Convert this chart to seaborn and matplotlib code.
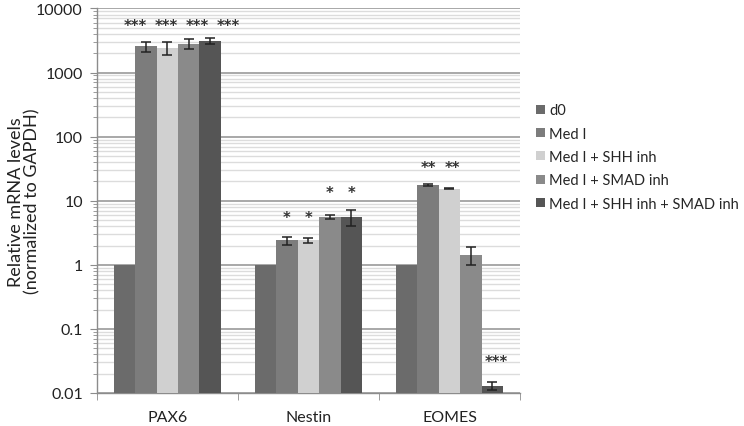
import numpy as np
import pandas as pd
import matplotlib
matplotlib.use("Agg")
import matplotlib.pyplot as plt
import seaborn as sns
from matplotlib.ticker import LogLocator, FixedLocator, NullFormatter, FuncFormatter

genes = ["PAX6", "Nestin", "EOMES"]
conditions = ["d0", "Med I", "Med I + SHH inh", "Med I + SMAD inh", "Med I + SHH inh + SMAD inh"]
colors = ["#6b6b6b", "#7c7c7c", "#d0d0d0", "#8a8a8a", "#555555"]

pax6 = [1, 2580, 2430, 2840, 3130]
pax6_err = [0, 470, 550, 500, 380]
nestin = [1, 2.4, 2.4, 5.56, 5.56]
nestin_err = [0, 0.35, 0.2, 0.4, 1.5]
eomes = [1, 17.5, 15.5, 1.43, 0.013]
eomes_err = [0, 0.5, 0.3, 0.45, 0.0018]

# significance labels: (gene index, x offset within group, y value, text)
star_gene = [0, 0, 0, 0, 1, 1, 1, 1, 2, 2, 2]
star_xoff = [-0.23, -0.01, 0.21, 0.43, -0.152, 0.0, 0.152, 0.304, -0.152, 0.02, 0.33]
star_y = [5500, 5500, 5500, 5500, 5.4, 5.4, 13.5, 13.5, 33, 33, 0.031]
star_txt = ["***", "***", "***", "***", "*", "*", "*", "*", "**", "**", "***"]

values = [pax6, nestin, eomes]
errors = [pax6_err, nestin_err, eomes_err]
rows = []
for g, vals, errs in zip(genes, values, errors):
    for c, v, e in zip(conditions, vals, errs):
        rows.append({"gene": g, "condition": c, "value": v, "err": e})
df = pd.DataFrame(rows)

sns.set_style("white")
plt.rcParams["font.family"] = ["Lato", "DejaVu Sans"]

fig = plt.figure(figsize=(7.44, 4.27), dpi=100)
ax = fig.add_axes([0.130, 0.0773, 0.569, 0.9005])

sns.barplot(data=df, x="gene", y="value", hue="condition", order=genes,
            hue_order=conditions, palette=colors, width=0.76, gap=0,
            errorbar=None, saturation=1, ax=ax,
            edgecolor="none", linewidth=0, zorder=3)
ax.set_yscale("log")
ax.set_ylim(0.01, 10000)
ax.set_xlim(-0.5, 2.5)

# error bars
for cont, cond in zip(ax.containers, conditions):
    sub = df[df["condition"] == cond].set_index("gene").loc[genes]
    xs = [b.get_x() + b.get_width() / 2 for b in cont]
    for x, v, e in zip(xs, sub["value"], sub["err"]):
        if e > 0:
            ax.errorbar(x, v, yerr=e, fmt="none", ecolor="#222222",
                        elinewidth=1.1, capsize=3.5, capthick=1.1, zorder=5)

# stars
for gi, xo, yv, t in zip(star_gene, star_xoff, star_y, star_txt):
    ax.text(gi + xo, yv, t, ha="center", va="center", fontsize=10.5,
            fontweight="bold", color="#333333", family="DejaVu Sans", zorder=6)

# grid
ax.yaxis.set_major_locator(LogLocator(base=10, numticks=10))
ax.yaxis.set_minor_locator(LogLocator(base=10, subs=np.arange(2, 10), numticks=20))
ax.yaxis.set_minor_formatter(NullFormatter())
ax.yaxis.set_major_formatter(FuncFormatter(lambda v, p: f"{v:g}"))
ax.grid(which="major", axis="y", color="#a8a8a8", linewidth=1.4, zorder=0)
ax.grid(which="minor", axis="y", color="#dcdcdc", linewidth=1.0, zorder=0)
ax.set_axisbelow(True)

for s in ["top", "right"]:
    ax.spines[s].set_visible(False)
for s in ["left", "bottom"]:
    ax.spines[s].set_color("#8c8c8c")
    ax.spines[s].set_linewidth(1.0)

ax.tick_params(axis="y", which="major", length=5, color="#8c8c8c", labelsize=11.5,
               labelcolor="#222222", pad=5, direction="out", left=True)
ax.tick_params(axis="y", which="minor", length=3, color="#8c8c8c", left=True)
ax.tick_params(axis="x", which="major", length=0, labelsize=11.5, labelcolor="#222222", pad=12)
ax.xaxis.set_minor_locator(FixedLocator([-0.5, 0.5, 1.5, 2.5]))
ax.xaxis.set_minor_formatter(NullFormatter())
ax.tick_params(axis="x", which="minor", length=5, color="#8c8c8c", bottom=True)
ax.xaxis.get_offset_text().set_visible(False)
ax.yaxis.get_offset_text().set_visible(False)

ax.set_xlabel("")
ax.xaxis.label.set_visible(False)
ax.set_ylabel("Relative mRNA levels\n(normalized to GAPDH)", fontsize=13,
              color="#222222", linespacing=1.05)
ax.yaxis.set_label_coords(-0.132, 0.5)

handles, labels = ax.get_legend_handles_labels()
ax.legend(handles, labels, loc="center left", bbox_to_anchor=(0.713, 0.630),
          bbox_transform=fig.transFigure, frameon=False, fontsize=10.5,
          handlelength=0.6, handleheight=0.6, handletextpad=0.3,
          labelspacing=0.64, borderaxespad=0)

fig.savefig("out.png", dpi=100)
